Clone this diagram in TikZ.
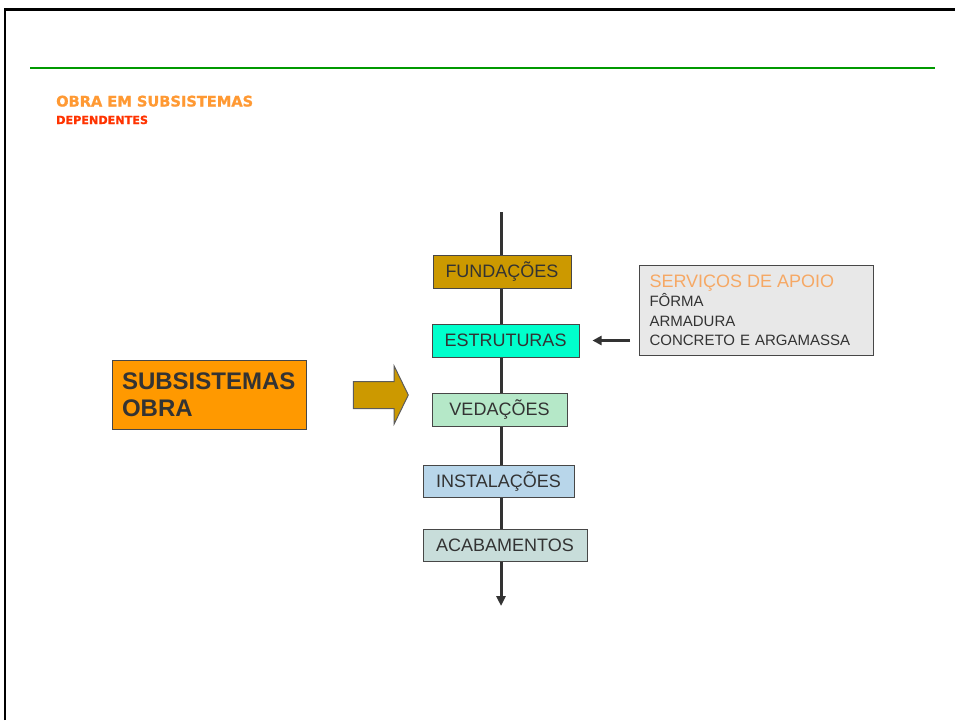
\documentclass[tikz,border=0pt]{standalone}
\usepackage{fontspec}
\setmainfont{Liberation Sans}
\newfontfamily\hdrfont{DejaVu Sans}[BoldFeatures={FakeBold=1.2}]
\usetikzlibrary{arrows.meta,shapes.arrows}

\definecolor{gold}{HTML}{CC9900}
\definecolor{aqua}{HTML}{00FFCC}
\definecolor{mint}{HTML}{B5E8C8}
\definecolor{skyb}{HTML}{B8D6EA}
\definecolor{sage}{HTML}{C8DDDA}
\definecolor{boxorange}{HTML}{FF9900}
\definecolor{hdrorange}{HTML}{FF9933}
\definecolor{hdrred}{HTML}{FF3300}
\definecolor{sandy}{HTML}{F6A864}
\definecolor{paleg}{HTML}{E8E8E8}
\definecolor{ink}{HTML}{333333}
\definecolor{rule}{HTML}{009900}

\tikzset{
  stage/.style={draw=ink!90,line width=1pt,minimum height=33pt,inner sep=0pt,
    text=ink,font=\fontsize{18}{20}\selectfont},
  flow/.style={draw=ink,line width=3pt},
}

\begin{document}
\begin{tikzpicture}[x=1pt,y=-1pt]
  \useasboundingbox (0,0) rectangle (955,720);

  % frame and title
  \draw[line width=2.5pt] (5,720) -- (5,9.5) -- (955,9.5);
  \draw[rule,line width=2pt] (30,68) -- (935,68);
  \node[anchor=base west,inner sep=0pt,text=hdrorange,font=\hdrfont\bfseries\fontsize{14.6}{16}\selectfont]
    (titulo) at (56,106.5) {OBRA EM SUBSISTEMAS};
  \node[anchor=base west,inner sep=0pt,text=hdrred,font=\hdrfont\bfseries\fontsize{11.2}{13}\selectfont]
    (subtitulo) at (56,124) {DEPENDENTES};

  % stages
  \node[stage,fill=gold,minimum width=138pt] (fund) at (502,271.5) {FUNDAÇÕES};
  \node[stage,fill=aqua,minimum width=147pt] (estr) at (505.5,340.5) {ESTRUTURAS};
  \node[stage,fill=mint,minimum width=135pt] (veda) at (499.5,409.5) {VEDAÇÕES};
  \node[stage,fill=skyb,minimum width=151pt,minimum height=32pt] (inst) at (498.5,481) {INSTALAÇÕES};
  \node[stage,fill=sage,minimum width=164pt,minimum height=32pt] (acab) at (505,545) {ACABAMENTOS};

  \coordinate (topo) at (501,212);
  \coordinate (fim) at (501,606);
  \draw[flow] (topo) -- (topo |- fund.north);
  \draw[flow] (topo |- fund.south) -- (topo |- estr.north);
  \draw[flow] (topo |- estr.south) -- (topo |- veda.north);
  \draw[flow] (topo |- veda.south) -- (topo |- inst.north);
  \draw[flow] (topo |- inst.south) -- (topo |- acab.north);
  \draw[flow,-{Triangle[width=9pt,length=10pt]}] (topo |- acab.south) -- (fim);

  % left side
  \node[draw=ink!90,line width=1pt,fill=boxorange,text=ink,text width=174pt,minimum height=69pt,
    inner xsep=10pt,inner ysep=0pt,align=left,font=\bfseries\fontsize{24}{26.5}\selectfont]
    (obra) at (209,394.5) {SUBSISTEMAS\\OBRA};
  \node[single arrow,draw=ink!80,line width=1pt,fill=gold,inner sep=13pt,minimum width=57pt,
    minimum height=55pt,single arrow head extend=15.5pt,single arrow tip angle=128]
    (seta) at (377.5,395) {};

  % right side
  \node[draw=ink!90,line width=1pt,fill=paleg,text width=214pt,minimum height=90pt,
    inner xsep=10pt,inner ysep=4pt,align=left,anchor=north west,text=ink,
    font=\fontsize{15}{19.5}\selectfont]
    (apoio) at (639,265) {{\color{sandy}\fontsize{18}{20}\selectfont SERVIÇOS DE APOIO}\\
      FÔRMA\\ARMADURA\\CONCRETO E ARGAMASSA};
  \draw[draw=ink,line width=2.5pt,-{Triangle[width=9pt,length=9pt]}]
    ([xshift=-9pt]estr.east -| apoio.west) -- ([xshift=13pt]estr.east);
\end{tikzpicture}
\end{document}
